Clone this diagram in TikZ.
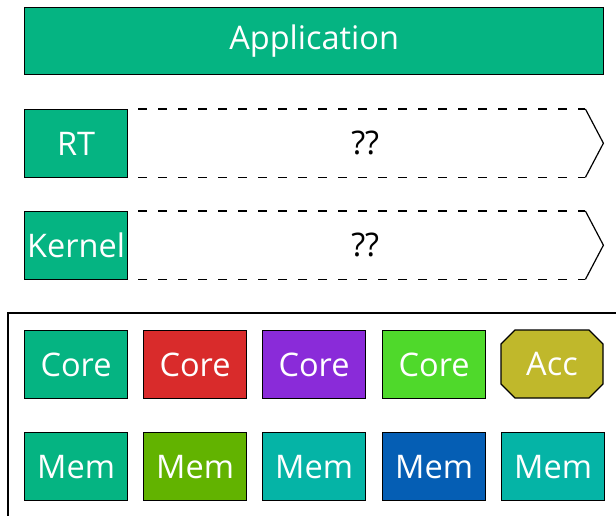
\documentclass[tikz,border=0pt]{standalone}
\usepackage{fontspec}
\setmainfont{Open Sans}
\usetikzlibrary{shapes.geometric,positioning,calc}
\definecolor{cgreen}{HTML}{05B482}
\definecolor{cred}{HTML}{D92B2B}
\definecolor{cpurple}{HTML}{8A2BD9}
\definecolor{clime}{HTML}{4FD92B}
\definecolor{colive}{HTML}{C0B82B}
\definecolor{cgrass}{HTML}{62B300}
\definecolor{cteal}{HTML}{05B4A6}
\definecolor{cblue}{HTML}{055EB4}
\begin{document}
\begin{tikzpicture}[x=1pt,y=-1pt,
  bigfont/.style={font=\fontsize{32.5}{36}\selectfont},
  blk/.style={draw=black,line width=1.2pt,text=white,inner sep=0pt,bigfont,minimum width=103pt,minimum height=68pt,anchor=north west},
  qbox/.style={inner sep=0pt,bigfont,minimum width=476pt,minimum height=68pt,anchor=north west},
  dash line/.style={line width=1.3pt,dash pattern=on 9pt off 11pt,dash phase=9pt},
  chev/.style={line width=1.2pt}]
\useasboundingbox (0,0) rectangle (616,516);
\begin{scope}
\clip (0,0) rectangle (616,516);
\draw[line width=1.2pt] (8,313) rectangle (640,540);
\end{scope}
% Application
\node[blk,fill=cgreen,minimum width=579pt,minimum height=67pt] (app) at (24,7) {Application};
% RT row
\node[qbox] (q1) at (127,109) {??};
\coordinate (a1) at ($(q1.north east)+(-18,0)$);
\coordinate (b1) at ($(q1.south east)+(-18,0)$);
\draw[dash line] (q1.north west) -- (a1);
\draw[dash line] (q1.south west) -- (b1);
\draw[chev] (a1) -- (q1.east) -- (b1);
\node[blk,fill=cgreen] (rt) at (24,109) {RT};
% Kernel row
\node[qbox] (q2) at (127,211) {??};
\coordinate (a2) at ($(q2.north east)+(-18,0)$);
\coordinate (b2) at ($(q2.south east)+(-18,0)$);
\draw[dash line] (q2.north west) -- (a2);
\draw[dash line] (q2.south west) -- (b2);
\draw[chev] (a2) -- (q2.east) -- (b2);
\node[blk,fill=cgreen] (kernel) at (24,211) {Kernel};
% cores
\node[blk,fill=cgreen] (c1) at (24,330) {Core};
\node[blk,fill=cred] (c2) at (143,330) {Core};
\node[blk,fill=cpurple] (c3) at (262,330) {Core};
\node[blk,fill=clime] (c4) at (382,330) {Core};
\fill[colive,draw=black,line width=1.2pt] (515,330) -- (589,330) -- (603,344) -- (603,384) -- (589,398) -- (515,398) -- (501,384) -- (501,344) -- cycle;
\node[text=white,bigfont,inner sep=0pt] (acc) at (552,364) {Acc};
% mems
\node[blk,fill=cgreen] (m1) at (24,432) {Mem};
\node[blk,fill=cgrass] (m2) at (143,432) {Mem};
\node[blk,fill=cteal] (m3) at (262,432) {Mem};
\node[blk,fill=cblue] (m4) at (382,432) {Mem};
\node[blk,fill=cteal] (m5) at (501,432) {Mem};
\end{tikzpicture}
\end{document}
